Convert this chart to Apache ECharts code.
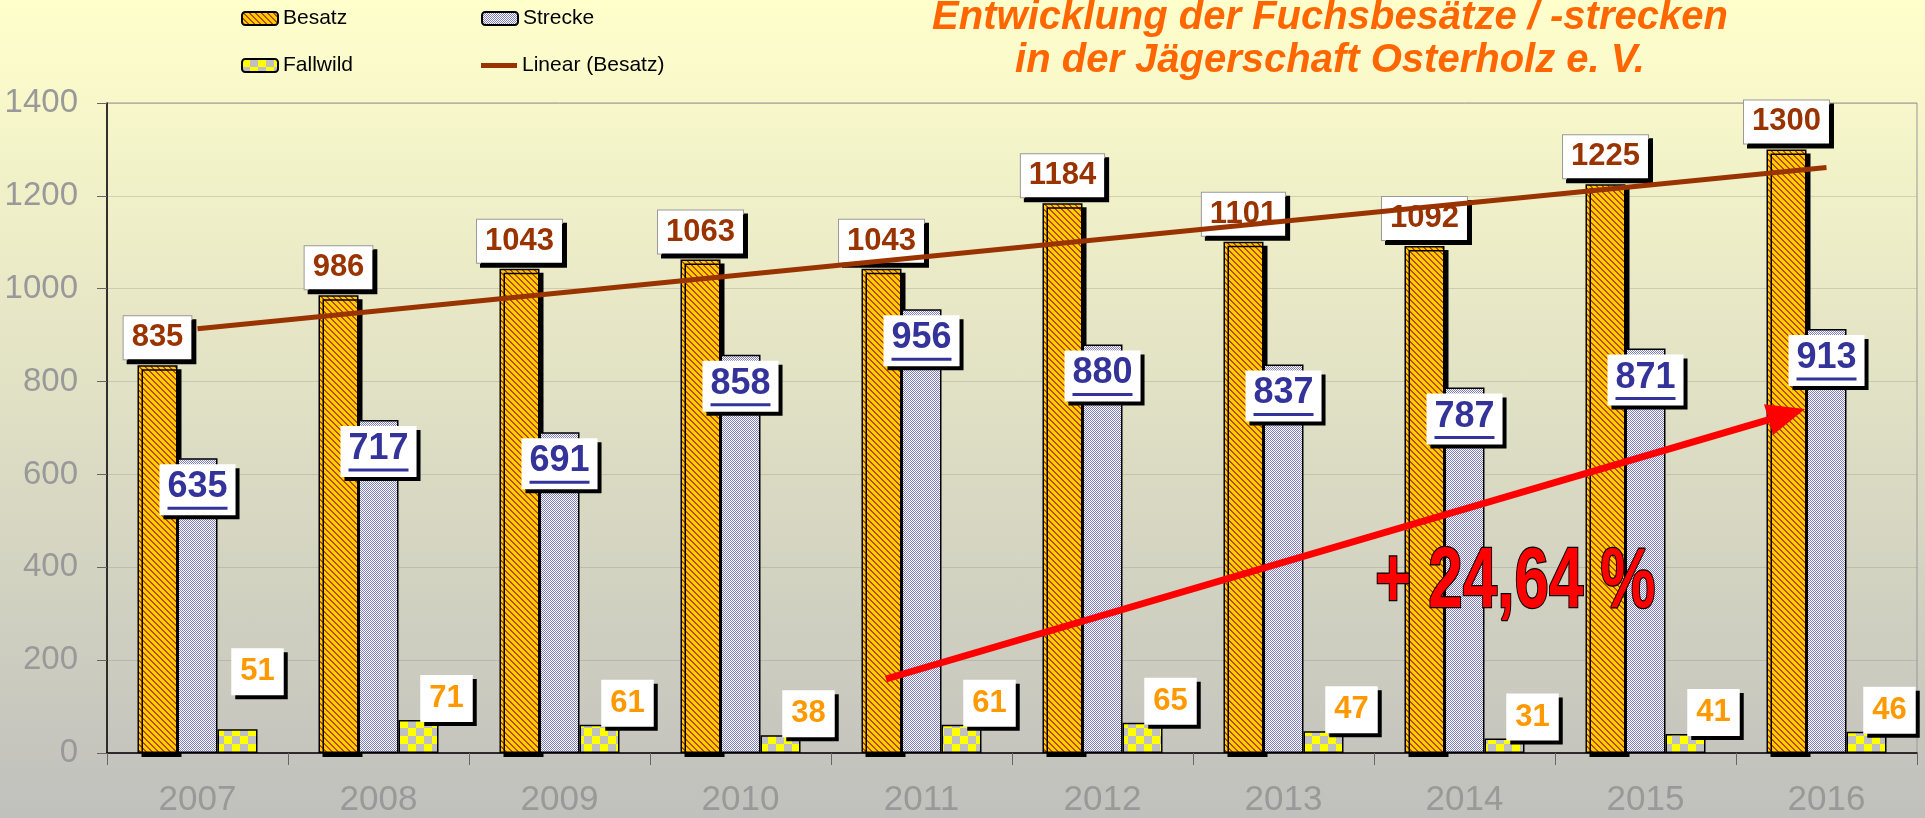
<!DOCTYPE html>
<html>
<head>
<meta charset="utf-8">
<script src="https://cdn.jsdelivr.net/npm/echarts@6/dist/echarts.min.js"></script>
<style>
  html, body { margin: 0; padding: 0; }
  #chart {
    width: 1925px;
    height: 818px;
    background: linear-gradient(to bottom, #ffffcc 0%, #c0c0bd 100%);
  }
</style>
</head>
<body>
<div id="chart"></div>
<script>
// Daten aus der Grafik
const years = ["2007", "2008", "2009", "2010", "2011", "2012", "2013", "2014", "2015", "2016"];
const besatz = [835, 986, 1043, 1063, 1043, 1184, 1101, 1092, 1225, 1300];
const strecke = [635, 717, 691, 858, 956, 880, 837, 787, 871, 913];
const fallwild = [51, 71, 61, 38, 61, 65, 47, 31, 41, 46];
const trendBesatz = [914, null, null, null, null, null, null, null, null, 1261];
const changeText = "+ 24,64 %";

const FONT = "'Liberation Sans', Arial, sans-serif";

// Muster für die Balken
const makePattern = (size, draw) => {
  const c = document.createElement("canvas");
  c.width = size;
  c.height = size;
  draw(c.getContext("2d"), size);
  return { image: c, repeat: "repeat" };
};

const besatzFill = makePattern(6, (ctx, s) => {
  ctx.fillStyle = "#ffcc00";
  ctx.fillRect(0, 0, s, s);
  ctx.fillStyle = "#c04a00";
  for (let y = 0; y < s; y++) {
    for (let x = 0; x < s; x++) {
      if ((x - y + s) % s < 2) ctx.fillRect(x, y, 1, 1);
    }
  }
});

const streckeFill = makePattern(2, (ctx) => {
  ctx.fillStyle = "#ffffff";
  ctx.fillRect(0, 0, 2, 2);
  ctx.fillStyle = "#7f7fbf";
  ctx.fillRect(0, 0, 1, 1);
  ctx.fillRect(1, 1, 1, 1);
});

const fallwildFill = makePattern(16, (ctx) => {
  ctx.fillStyle = "#c0c0c0";
  ctx.fillRect(0, 0, 16, 16);
  ctx.fillStyle = "#ffff00";
  ctx.fillRect(0, 0, 8, 8);
  ctx.fillRect(8, 8, 8, 8);
});

const boxShadow = {
  shadowColor: "#000",
  shadowBlur: 0,
  shadowOffsetX: 4,
  shadowOffsetY: 4,
};

// Fallwild-Beschriftungen sind im Original von Hand verschoben
const fallwildLabelOffset = { 0: [20, -34], 9: [23, 2] };

// Pfeil (Annotation)
const arrowFrom = [886, 679];
const arrowTo = [1805, 409];
const arrowParts = () => {
  const dx = arrowTo[0] - arrowFrom[0];
  const dy = arrowTo[1] - arrowFrom[1];
  const len = Math.sqrt(dx * dx + dy * dy);
  const ux = dx / len, uy = dy / len;
  const headLen = 38, headHalf = 16;
  const bx = arrowTo[0] - ux * headLen;
  const by = arrowTo[1] - uy * headLen;
  return [
    {
      type: "polyline",
      shape: { points: [arrowFrom, [bx + ux * 4, by + uy * 4]] },
      style: { stroke: "#ff0000", lineWidth: 7 },
      z: 100,
    },
    {
      type: "polygon",
      shape: {
        points: [
          arrowTo,
          [bx - uy * headHalf, by + ux * headHalf],
          [bx + uy * headHalf, by - ux * headHalf],
        ],
      },
      style: { fill: "#ff0000" },
      z: 100,
    },
  ];
};

const legendBase = {
  orient: "horizontal",
  padding: 0,
  itemWidth: 36,
  itemHeight: 13,
  textStyle: { color: "#000", fontSize: 21, fontFamily: FONT },
};

const chart = echarts.init(document.getElementById("chart"), null, { renderer: "canvas" });

const option = {
  animation: false,
  backgroundColor: "transparent",
  textStyle: { fontFamily: FONT },
  legend: [
    Object.assign({}, legendBase, { data: ["Besatz"], left: 241, top: 8 }),
    Object.assign({}, legendBase, { data: ["Strecke"], left: 481, top: 8 }),
    Object.assign({}, legendBase, { data: ["Fallwild"], left: 241, top: 55 }),
    Object.assign({}, legendBase, {
      data: [{ name: "Linear (Besatz)", icon: "rect" }],
      left: 481,
      top: 55,
      itemHeight: 5,
      itemStyle: { color: "#993300", borderWidth: 0 },
    }),
  ],
  grid: {
    left: 107,
    right: 8,
    top: 103,
    bottom: 65,
    show: true,
    borderColor: "#999",
    borderWidth: 1,
    backgroundColor: "transparent",
    outerBoundsMode: "none",
  },
  xAxis: {
    type: "category",
    data: years,
    axisLine: { lineStyle: { color: "#000", width: 1.5 } },
    axisTick: { show: true, length: 12, lineStyle: { color: "#666" } },
    axisLabel: { color: "#999", fontSize: 35, margin: 30, fontFamily: FONT },
    splitLine: { show: false },
  },
  yAxis: {
    type: "value",
    min: 0,
    max: 1400,
    interval: 200,
    axisLine: { show: true, lineStyle: { color: "#000", width: 1.5 } },
    axisTick: { show: true, length: 10, lineStyle: { color: "#666" } },
    axisLabel: {
      color: "#999",
      fontSize: 33,
      margin: 29,
      fontFamily: FONT,
      formatter: (v) => String(v),
    },
    splitLine: { lineStyle: { color: "rgba(140,140,130,0.3)", width: 1 } },
  },
  series: [
    {
      name: "Besatz",
      type: "bar",
      data: besatz,
      barWidth: 40,
      barGap: "0%",
      z: 2,
      emphasis: { disabled: true },
      itemStyle: Object.assign(
        { color: besatzFill, borderColor: "#000", borderWidth: 1.5 },
        boxShadow
      ),
      label: Object.assign(
        {
          show: true,
          position: "top",
          distance: 6,
          color: "#993300",
          fontSize: 31,
          fontWeight: "bold",
          fontFamily: FONT,
          backgroundColor: "#fff",
          borderColor: "#999",
          borderWidth: 1,
          padding: [6, 8],
        },
        boxShadow
      ),
    },
    {
      name: "Strecke",
      type: "bar",
      data: strecke,
      barWidth: 40,
      z: 2,
      emphasis: { disabled: true },
      itemStyle: { color: streckeFill, borderColor: "#000", borderWidth: 1.5 },
      label: Object.assign(
        {
          show: true,
          position: "insideTop",
          distance: 6,
          formatter: "{t|{c}}\n{u|}",
          backgroundColor: "#fff",
          padding: [5, 8, 4, 8],
          rich: {
            t: { color: "#333399", fontSize: 36, fontWeight: "bold", fontFamily: FONT, lineHeight: 36 },
            u: { width: 60, height: 3, lineHeight: 6, backgroundColor: "#333399" },
          },
        },
        boxShadow
      ),
    },
    {
      name: "Fallwild",
      type: "bar",
      data: fallwild.map((v, i) =>
        fallwildLabelOffset[i] ? { value: v, label: { offset: fallwildLabelOffset[i] } } : v
      ),
      barWidth: 40,
      z: 2,
      emphasis: { disabled: true },
      itemStyle: { color: fallwildFill, borderColor: "#000", borderWidth: 1.5 },
      label: Object.assign(
        {
          show: true,
          position: "top",
          distance: 0,
          offset: [28, 2],
          color: "#ff9900",
          fontSize: 31,
          fontWeight: "bold",
          fontFamily: FONT,
          backgroundColor: "#fff",
          padding: [8, 9],
        },
        boxShadow
      ),
    },
    {
      name: "Linear (Besatz)",
      type: "line",
      data: trendBesatz,
      connectNulls: true,
      symbol: "none",
      z: 10,
      emphasis: { disabled: true },
      lineStyle: { color: "#993300", width: 5 },
      itemStyle: { color: "#993300" },
    },
  ],
  graphic: [
    {
      type: "text",
      x: 1330,
      y: 18,
      style: {
        text: "Entwicklung der Fuchsbesätze / -strecken",
        fill: "#ff6600",
        font: "italic bold 40px " + FONT,
        align: "center",
        verticalAlign: "middle",
      },
    },
    {
      type: "text",
      x: 1330,
      y: 61,
      style: {
        text: "in der Jägerschaft Osterholz e. V.",
        fill: "#ff6600",
        font: "italic bold 40px " + FONT,
        align: "center",
        verticalAlign: "middle",
      },
    },
    ...arrowParts(),
    {
      type: "text",
      x: 1375,
      y: 583,
      scaleX: 0.72,
      z: 101,
      style: {
        text: changeText,
        fill: "#ff0000",
        stroke: "#000",
        lineWidth: 2.5,
        font: "bold 86px " + FONT,
        align: "left",
        verticalAlign: "middle",
      },
    },
  ],
};

chart.setOption(option);
</script>
</body>
</html>
